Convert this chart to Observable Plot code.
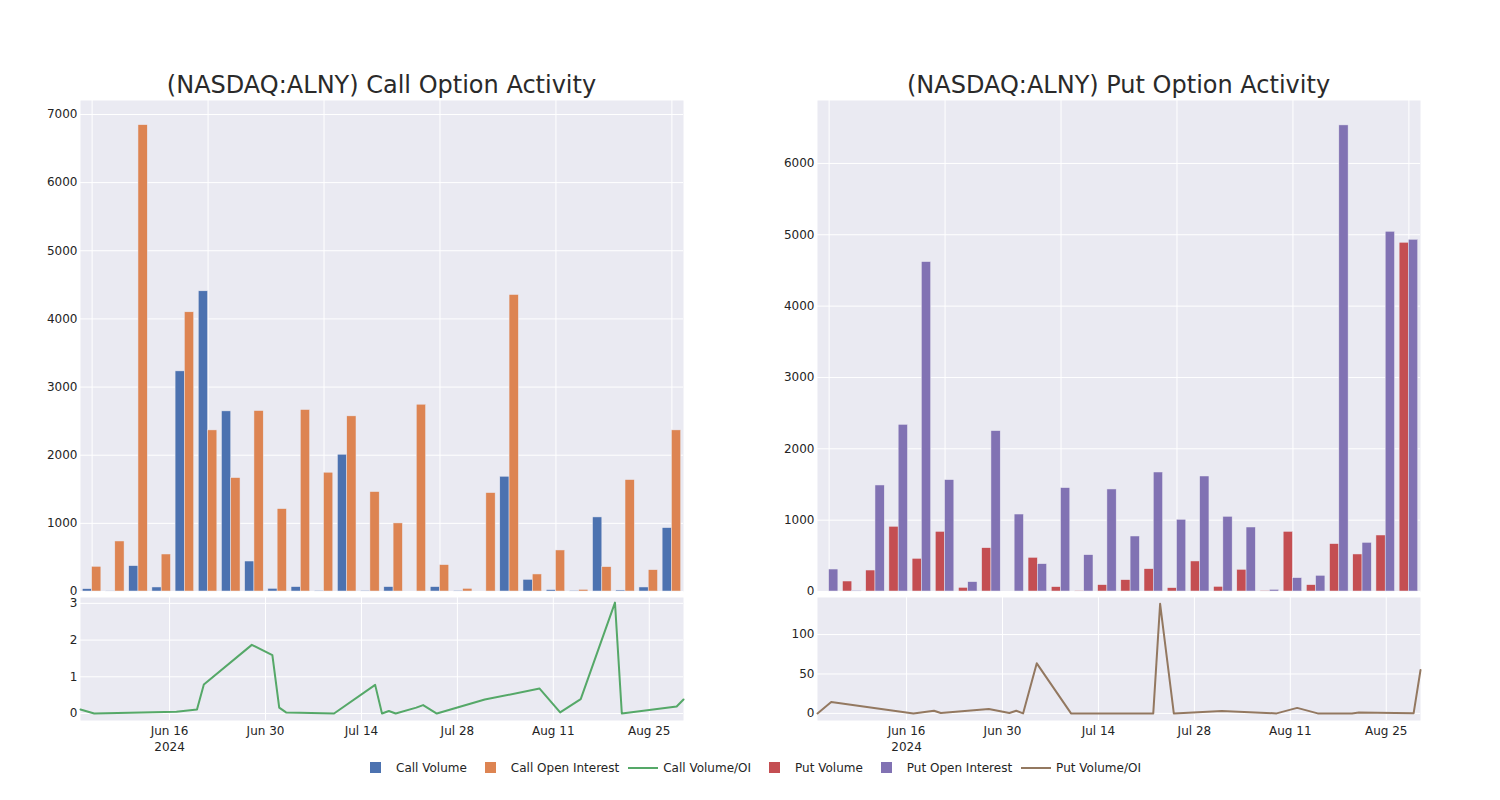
<!DOCTYPE html>
<html>
<head>
<meta charset="utf-8">
<script src="https://cdn.jsdelivr.net/npm/d3@7"></script>
<script src="https://cdn.jsdelivr.net/npm/@observablehq/plot@0.6"></script>
<style>
  body { margin: 0; background: white; font-family: "DejaVu Sans", sans-serif; }
  #root { position: relative; width: 1500px; height: 800px; overflow: hidden; }
  .panel { position: absolute; }
  .legend { position: absolute; left: 356px; top: 760px; height: 16px; display: flex; align-items: center; font-size: 12px; color: #242424; white-space: nowrap; }
  .item { display: flex; align-items: center; margin-right: 4px; }
  .sym { width: 40px; height: 16px; position: relative; }
  .sq { position: absolute; left: 14px; top: 2px; width: 11px; height: 11px; }
  .ln { position: absolute; left: 5px; top: 7px; width: 30px; height: 2px; }
</style>
</head>
<body>
<div id="root"></div>
<script>
// ---------------- data ----------------
const dates = ["2024-06-03","2024-06-05","2024-06-17","2024-06-20","2024-06-21","2024-06-28",
  "2024-07-01","2024-07-02","2024-07-03","2024-07-05","2024-07-10","2024-07-16","2024-07-17",
  "2024-07-18","2024-07-19","2024-07-22","2024-07-23","2024-07-25","2024-08-01","2024-08-09",
  "2024-08-12","2024-08-15","2024-08-20","2024-08-21","2024-08-29","2024-08-30"];

const callVolume = [34,5,372,59,3230,4405,2643,440,39,64,10,2007,10,64,0,64,10,0,1684,171,20,10,1087,15,59,930];
const callOpenInterest = [362,734,6843,543,4097,2364,1664,2648,1209,2663,1743,2570,1459,999,2741,387,39,1444,4351,250,602,24,357,1635,313,2364];
const callVolumeOI = [0.11,0,0.05,0.11,0.79,1.87,1.59,0.16,0.03,0.02,0,0.78,0,0.07,0,0.16,0.23,0,0.38,0.68,0.03,0.39,3.02,0,0.19,0.38];

const putVolume = [0,140,294,907,458,836,51,607,0,472,61,8,89,159,313,47,421,65,304,9,836,89,664,519,785,4888];
const putOpenInterest = [308,10,1486,2336,4617,1561,131,2248,1079,383,1449,509,1430,771,1668,1005,1612,1047,897,23,187,220,6533,682,5042,4930];
const putVolumeOI = [0,14.4,0,3.4,0.5,5.5,0.5,3.4,0,63.5,0,0,0,0,0,0,139,0,3,0,7,0,0,1,0.3,55];

const callBarTicks = [0,1000,2000,3000,4000,5000,6000,7000];
const putBarTicks = [0,1000,2000,3000,4000,5000,6000];
const callRatioTicks = [0,1,2,3];
const putRatioTicks = [0,50,100];
const dateTicks = ["2024-06-16","2024-06-30","2024-07-14","2024-07-28","2024-08-11","2024-08-25"];
const titles = ["(NASDAQ:ALNY) Call Option Activity", "(NASDAQ:ALNY) Put Option Activity"];
const legendItems = [
  {label: "Call Volume", color: "#4C72B0", type: "sq"},
  {label: "Call Open Interest", color: "#DD8452", type: "sq"},
  {label: "Call Volume/OI", color: "#55A868", type: "ln"},
  {label: "Put Volume", color: "#C44E52", type: "sq"},
  {label: "Put Open Interest", color: "#8172B3", type: "sq"},
  {label: "Put Volume/OI", color: "#937860", type: "ln"}
];

// ---------------- layout ----------------
const BG = "#EAEAF2";
const TXT = "#242424";
const W = 700, ML = 80, MR = 17;
const PW = W - ML - MR;
const style = {fontFamily: "DejaVu Sans", fontSize: "12px", background: "transparent", color: TXT, overflow: "visible"};
const root = document.getElementById("root");
const numFmt = d => String(d);

function place(el, left, top) {
  el.classList.add("panel");
  el.style.left = left + "px";
  el.style.top = top + "px";
  root.appendChild(el);
}

const gridCats = dates.filter((d, i) => i % 5 === 0);

function barChart(vol, oi, c1, c2, ymax, yticks) {
  const data = dates.map((d, i) => ({d, vol: vol[i], oi: oi[i]}));
  const half = (PW / dates.length) * 0.8 / 2;
  return Plot.plot({
    width: W, height: 511, marginLeft: ML, marginRight: MR, marginTop: 10, marginBottom: 10,
    style,
    x: {type: "band", domain: dates, paddingInner: 0.2, paddingOuter: 0.1, round: false, axis: null},
    y: {domain: [0, ymax], axis: null},
    marks: [
      Plot.frame({fill: BG, stroke: null}),
      Plot.gridY(yticks, {stroke: "white", strokeOpacity: 1, strokeWidth: 1}),
      Plot.gridX(gridCats, {stroke: "white", strokeOpacity: 1, strokeWidth: 1}),
      Plot.barY(data, {x: "d", y: "vol", fill: c1, insetRight: half, stroke: BG, strokeWidth: 0.5}),
      Plot.barY(data, {x: "d", y: "oi", fill: c2, insetLeft: half, stroke: BG, strokeWidth: 0.5}),
      Plot.axisY(yticks, {tickSize: 0, tickPadding: 3, label: null, fontSize: 12, fill: TXT, tickFormat: numFmt})
    ]
  });
}

function lineChart(vals, color, ydomain, yticks) {
  const data = dates.map((d, i) => ({date: new Date(d), v: vals[i]}));
  const xt = dateTicks.map(d => new Date(d));
  const fmt = d3.utcFormat("%b %d");
  return Plot.plot({
    width: W, height: 170, marginLeft: ML, marginRight: MR, marginTop: 7, marginBottom: 40,
    style,
    x: {type: "utc", domain: [new Date(dates[0]), new Date(dates[dates.length - 1])], axis: null},
    y: {domain: ydomain, axis: null},
    marks: [
      Plot.frame({fill: BG, stroke: null}),
      Plot.gridX(xt, {stroke: "white", strokeOpacity: 1, strokeWidth: 1}),
      Plot.gridY(yticks, {stroke: "white", strokeOpacity: 1, strokeWidth: 1}),
      Plot.lineY(data, {x: "date", y: "v", stroke: color, strokeWidth: 2}),
      Plot.axisX(xt, {tickSize: 0, tickPadding: 3, label: null, fontSize: 12, fill: TXT, lineHeight: 1.33,
        tickFormat: d => +d === +xt[0] ? fmt(d) + "\n2024" : fmt(d)}),
      Plot.axisY(yticks, {tickSize: 0, tickPadding: 3, label: null, fontSize: 12, fill: TXT, tickFormat: numFmt})
    ]
  });
}

place(barChart(callVolume, callOpenInterest, "#4C72B0", "#DD8452", 7205, callBarTicks), 0, 90);
place(barChart(putVolume, putOpenInterest, "#C44E52", "#8172B3", 6882, putBarTicks), 737, 90);
place(lineChart(callVolumeOI, "#55A868", [-0.19, 3.16], callRatioTicks), 0, 590);
place(lineChart(putVolumeOI, "#937860", [-9, 147], putRatioTicks), 737, 590);

// titles
const ns = "http://www.w3.org/2000/svg";
const tsvg = document.createElementNS(ns, "svg");
tsvg.setAttribute("width", 1500); tsvg.setAttribute("height", 100);
tsvg.style.position = "absolute"; tsvg.style.left = "0px"; tsvg.style.top = "0px";
[[0, titles[0]], [737, titles[1]]].forEach(([off, t]) => {
  const tx = document.createElementNS(ns, "text");
  tx.setAttribute("x", off + ML + PW / 2);
  tx.setAttribute("y", 93);
  tx.setAttribute("text-anchor", "middle");
  tx.setAttribute("font-family", "DejaVu Sans");
  tx.setAttribute("font-size", 24);
  tx.setAttribute("fill", "#2a2a2a");
  tx.textContent = t;
  tsvg.appendChild(tx);
});
root.appendChild(tsvg);

// legend
const leg = document.createElement("div");
leg.className = "legend";
legendItems.forEach(it => {
  const item = document.createElement("div");
  item.className = "item";
  const sym = document.createElement("div");
  sym.className = "sym";
  const mk = document.createElement("div");
  mk.className = it.type;
  mk.style.background = it.color;
  sym.appendChild(mk);
  const lab = document.createElement("span");
  lab.textContent = it.label;
  item.appendChild(sym);
  item.appendChild(lab);
  leg.appendChild(item);
});
root.appendChild(leg);
</script>
</body>
</html>
